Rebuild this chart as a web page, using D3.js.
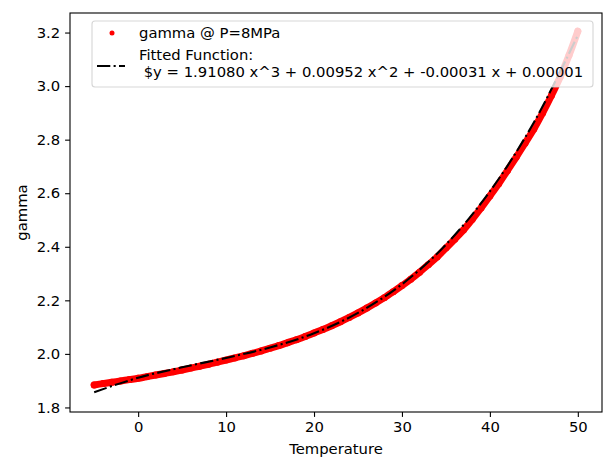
<!DOCTYPE html>
<html>
<head>
<meta charset="utf-8">
<script src="https://cdn.jsdelivr.net/npm/d3@7"></script>
<style>
  body { margin: 0; background: #fff; }
  svg text { font-family: "DejaVu Sans", sans-serif; fill: #000; }
</style>
</head>
<body>
<svg id="chart"></svg>
<script>
// measured gamma values, 1 degree apart
const temps = d3.range(-5, 51);
const gamma = [
  1.884, 1.889, 1.894, 1.899, 1.904, 1.909, 1.915, 1.921, 1.927, 1.933,
  1.940, 1.947, 1.954, 1.961, 1.969, 1.977, 1.985, 1.993, 2.002, 2.011,
  2.021, 2.031, 2.042, 2.053, 2.065, 2.078, 2.091, 2.105, 2.120, 2.136,
  2.153, 2.171, 2.190, 2.210, 2.232, 2.255, 2.279, 2.305, 2.333, 2.362,
  2.395, 2.428, 2.463, 2.503, 2.545, 2.590, 2.635, 2.685, 2.735, 2.787,
  2.840, 2.900, 2.965, 3.035, 3.115, 3.205
];

// fitted cubic, read every 5 degrees
const fitTemps = [-5, 0, 5, 10, 15, 20, 25, 30, 35, 40, 45, 50];
const fitGamma = [1.857, 1.911, 1.950, 1.985, 2.024, 2.077, 2.153, 2.260, 2.408, 2.607, 2.864, 3.190];

const xTicks = [0, 10, 20, 30, 40, 50];
const yTicks = [1.8, 2.0, 2.2, 2.4, 2.6, 2.8, 3.0, 3.2];

const dataLabel = "gamma @ P=8MPa";
const fitLabel = ["Fitted Function:", " $y = 1.91080 x^3 + 0.00952 x^2 + -0.00031 x + 0.00001"];

const width = 605;
const height = 458;
const margin = { left: 70, right: 3, top: 13, bottom: 46 };
const fontSize = 14.8;

const svg = d3.select("#chart").attr("width", width).attr("height", height);

const x = d3.scaleLinear().domain([-7.75, 52.75]).range([margin.left, width - margin.right]);
const y = d3.scaleLinear().domain([1.783, 3.273]).range([height - margin.bottom, margin.top]);

// Data points (dense, overlapping into a band)
const points = temps.map((t, i) => [t, gamma[i]]);
svg.append("path")
  .datum(points)
  .attr("fill", "none")
  .attr("stroke", "#ff0000")
  .attr("stroke-width", 7)
  .attr("stroke-linecap", "round")
  .attr("stroke-linejoin", "round")
  .attr("d", d3.line().x((d) => x(d[0])).y((d) => y(d[1])).curve(d3.curveCatmullRom));

svg.append("g")
  .selectAll("circle")
  .data(points)
  .enter()
  .append("circle")
  .attr("cx", (d) => x(d[0]))
  .attr("cy", (d) => y(d[1]))
  .attr("r", 3.5)
  .attr("fill", "#ff0000");

// Fitted line
svg.append("path")
  .datum(fitTemps.map((t, i) => [t, fitGamma[i]]))
  .attr("fill", "none")
  .attr("stroke", "#000")
  .attr("stroke-width", 2.1)
  .attr("stroke-dasharray", "13.3,3.3,2.1,3.3")
  .attr("d", d3.line().x((d) => x(d[0])).y((d) => y(d[1])).curve(d3.curveCatmullRom));

// Axes
const xAxis = svg.append("g")
  .attr("transform", `translate(0,${height - margin.bottom})`)
  .call(d3.axisBottom(x).tickValues(xTicks).tickSize(4.9).tickPadding(4.9).tickFormat(d3.format("d")));
const yAxis = svg.append("g")
  .attr("transform", `translate(${margin.left},0)`)
  .call(d3.axisLeft(y).tickValues(yTicks).tickSize(4.9).tickPadding(4.9).tickFormat(d3.format(".1f")));

[xAxis, yAxis].forEach((g) => {
  g.select(".domain").remove();
  g.selectAll(".tick line").attr("stroke", "#000").attr("stroke-width", 1.1);
  g.selectAll(".tick text").attr("font-size", fontSize).attr("font-family", "DejaVu Sans").attr("fill", "#000");
});

// Frame
svg.append("rect")
  .attr("x", margin.left)
  .attr("y", margin.top)
  .attr("width", width - margin.right - margin.left)
  .attr("height", height - margin.bottom - margin.top)
  .attr("fill", "none")
  .attr("stroke", "#000")
  .attr("stroke-width", 1.1);

// Axis labels
svg.append("text")
  .attr("x", (margin.left + width - margin.right) / 2)
  .attr("y", 454)
  .attr("text-anchor", "middle")
  .attr("font-size", fontSize)
  .text("Temperature");

svg.append("text")
  .attr("transform", `translate(27,${(margin.top + height - margin.bottom) / 2}) rotate(-90)`)
  .attr("text-anchor", "middle")
  .attr("font-size", fontSize)
  .text("gamma");

// Legend
const legend = svg.append("g");
legend.append("rect")
  .attr("x", 92)
  .attr("y", 21)
  .attr("width", 501)
  .attr("height", 66)
  .attr("rx", 3)
  .attr("fill", "#fff")
  .attr("fill-opacity", 0.8)
  .attr("stroke", "#ccc")
  .attr("stroke-opacity", 0.8)
  .attr("stroke-width", 1.1);

legend.append("circle")
  .attr("cx", 112)
  .attr("cy", 33)
  .attr("r", 2.5)
  .attr("fill", "#ff0000");

legend.append("text")
  .attr("x", 139)
  .attr("y", 38)
  .attr("font-size", fontSize)
  .text(dataLabel);

legend.append("line")
  .attr("x1", 97)
  .attr("x2", 125)
  .attr("y1", 66)
  .attr("y2", 66)
  .attr("stroke", "#000")
  .attr("stroke-width", 2.1)
  .attr("stroke-dasharray", "13.3,3.3,2.1,3.3");

fitLabel.forEach((line, i) => {
  legend.append("text")
    .attr("x", 139)
    .attr("y", 60 + i * 17.3)
    .attr("font-size", fontSize)
    .style("white-space", "pre")
    .text(line);
});
</script>
</body>
</html>
